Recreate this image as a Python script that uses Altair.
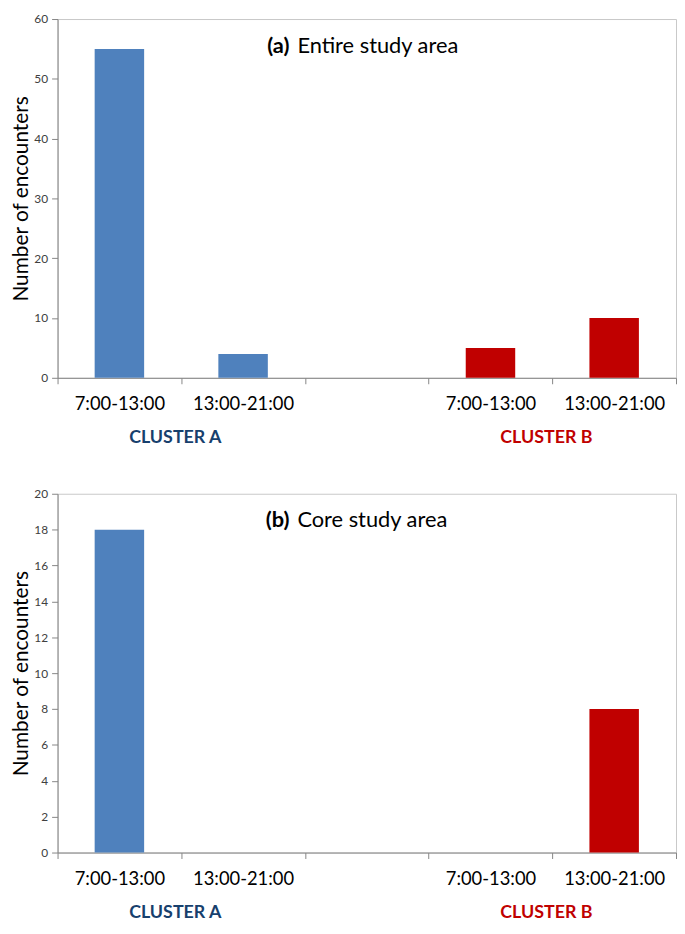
import json
import altair as alt
import pandas as pd

keys = ["A1", "A2", "GAP", "B1", "B2"]
tick_labels = ["7:00-13:00", "13:00-21:00", "", "7:00-13:00", "13:00-21:00"]
groups = ["A", "A", "", "B", "B"]
counts_entire = [55, 4, None, 5, 10]
counts_core = [18, 0, None, 0, 8]
cluster_names = ["CLUSTER A", "CLUSTER B"]
cluster_anchor = ["A2", "B2"]
cluster_text_colors = ["#17406D", "#C00000"]
bar_colors = ["#4F81BD", "#C00000"]
panel_letters = ["(a)", "(b)"]
panel_titles = ["Entire study area", "Core study area"]
y_max = [60, 20]
y_step = [10, 2]

label_expr = json.dumps(dict(zip(keys, tick_labels))) + "[datum.value]"

W, H = 624, 362
FONT = "Lato"


def panel(counts, letter, title, ymax, ystep):
    df = pd.DataFrame({"key": keys, "group": groups, "count": counts}).dropna()
    xscale = alt.Scale(domain=keys, paddingInner=0, paddingOuter=0)
    xaxis = alt.Axis(title=None, labelExpr=label_expr, labelAngle=0,
                     tickBand="extent")
    bars = alt.Chart(df).mark_bar(width={"band": 0.4}).encode(
        x=alt.X("key:N", scale=xscale, axis=xaxis, sort=keys),
        y=alt.Y("count:Q", scale=alt.Scale(domain=[0, ymax], nice=False),
                axis=alt.Axis(values=list(range(0, ymax + 1, ystep)),
                              title="Number of encounters", grid=False)),
        color=alt.Color("group:N", scale=alt.Scale(domain=["A", "B"], range=bar_colors),
                        legend=None),
    )
    layers = [bars]
    for name, anchor, col in zip(cluster_names, cluster_anchor, cluster_text_colors):
        cdf = pd.DataFrame({"key": [anchor], "name": [name]})
        layers.append(
            alt.Chart(cdf).mark_text(font=FONT, fontSize=18, fontWeight="bold",
                                     color=col, baseline="middle", dx=-6).encode(
                x=alt.X("key:N", scale=xscale, axis=xaxis, sort=keys, bandPosition=0),
                y=alt.value(H + 61),
                text="name:N",
            )
        )
    one = pd.DataFrame({"t": [0]})
    layers.append(
        alt.Chart(one).mark_text(text=letter, font=FONT, fontSize=22, fontWeight="bold",
                                 align="right", baseline="middle", color="black").encode(
            x=alt.value(234), y=alt.value(27))
    )
    layers.append(
        alt.Chart(one).mark_text(text=title, font=FONT, fontSize=22,
                                 align="left", baseline="middle", color="black").encode(
            x=alt.value(242), y=alt.value(27))
    )
    return alt.layer(*layers).properties(width=W, height=H)


pa = panel(counts_entire, panel_letters[0], panel_titles[0], y_max[0], y_step[0])
pb = panel(counts_core, panel_letters[1], panel_titles[1], y_max[1], y_step[1])

chart = alt.vconcat(pa, pb, spacing=39).properties(
    padding={"left": 2, "top": 0, "right": 0, "bottom": 0}
).configure_view(
    stroke="#C8C8C8", strokeWidth=1
).configure_axis(
    domainColor="#868686", tickColor="#868686", tickSize=6,
    labelFont=FONT, titleFont=FONT,
).configure_axisX(
    labelFontSize=18.5, labelColor="black", labelPadding=11,
).configure_axisY(
    labelFontSize=12, labelColor="#404040", labelPadding=4,
    titleFontSize=21, titleFontWeight="normal", titleColor="black", titlePadding=2,
)

chart.save("out.html", embed_options={"renderer": "svg", "actions": False})
